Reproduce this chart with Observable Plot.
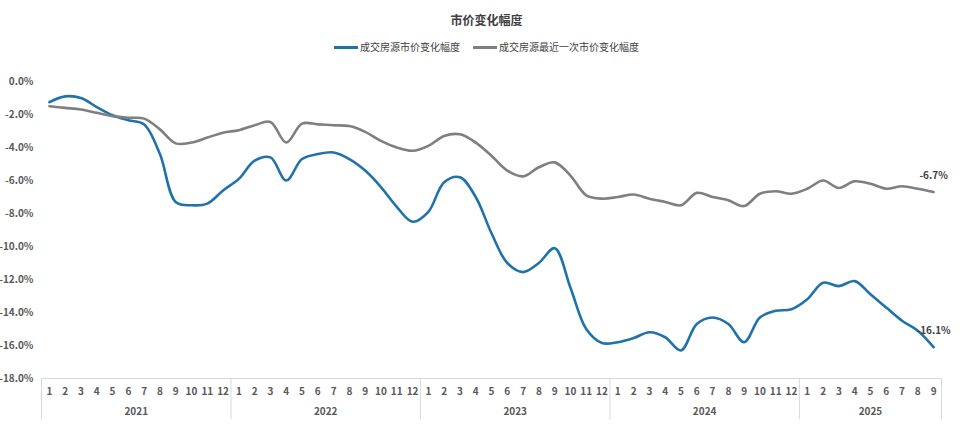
<!DOCTYPE html>
<html>
<head>
<meta charset="utf-8">
<script src="https://cdn.jsdelivr.net/npm/d3@7"></script>
<script src="https://cdn.jsdelivr.net/npm/@observablehq/plot@0.6"></script>
<style>
  body { margin: 0; background: #fff; }
  #wrap { position: relative; width: 973px; height: 424px; font-family: "Noto Sans CJK SC", "Noto Sans", sans-serif; }
  #title { position: absolute; top: 12px; left: 0; width: 973px; text-align: center; font-size: 12px; font-weight: bold; color: #404040; line-height: 16px; }
  #legend { position: absolute; top: 39px; left: 0; width: 973px; display: flex; justify-content: center; gap: 13px; font-size: 10px; color: #404040; line-height: 16px; }
  .item { display: flex; align-items: center; }
  .sw { width: 24px; height: 3px; margin-right: 2px; }
  #chart { position: absolute; top: 64px; left: 0; }
</style>
</head>
<body>
<div id="wrap">
  <div id="title"></div>
  <div id="legend"></div>
  <div id="chart"></div>
</div>
<script>
const title = "市价变化幅度";
const seriesNames = ["成交房源市价变化幅度", "成交房源最近一次市价变化幅度"];
const seriesColors = ["#1f72aa", "#7f7f7f"];
const years = ["2021", "2022", "2023", "2024", "2025"];
const monthsPerYear = [12, 12, 12, 12, 9];
const monthLabels = ["1","2","3","4","5","6","7","8","9","10","11","12"];
const yTicks = [0, -2, -4, -6, -8, -10, -12, -14, -16, -18];

const marketChange = [
  -1.25, -0.9, -1.0, -1.55, -2.05, -2.35, -2.6, -4.4, -7.3, -7.5, -7.4, -6.6,
  -5.9, -4.8, -4.6, -6.0, -4.7, -4.4, -4.3, -4.7, -5.4, -6.4, -7.6, -8.5,
  -7.9, -6.1, -5.8, -7.0, -9.2, -11.0, -11.55, -11.0, -10.1, -12.5, -15.0, -15.85,
  -15.8, -15.55, -15.2, -15.5, -16.3, -14.7, -14.3, -14.7, -15.8, -14.3, -13.9, -13.8,
  -13.2, -12.2, -12.4, -12.1, -12.9, -13.7, -14.5, -15.1, -16.1
];
const lastChange = [
  -1.5, -1.6, -1.7, -1.9, -2.1, -2.2, -2.25, -2.9, -3.75, -3.7, -3.4, -3.1,
  -2.95, -2.65, -2.45, -3.7, -2.55, -2.6, -2.65, -2.7, -3.05, -3.6, -4.0, -4.2,
  -3.9, -3.3, -3.2, -3.7, -4.5, -5.4, -5.75, -5.2, -4.9, -5.7, -6.9, -7.1,
  -7.0, -6.85, -7.1, -7.3, -7.5, -6.75, -7.0, -7.2, -7.55, -6.8, -6.65, -6.8,
  -6.5, -6.0, -6.45, -6.05, -6.2, -6.5, -6.35, -6.5, -6.7
];

document.getElementById("title").textContent = title;
const legend = document.getElementById("legend");
seriesNames.forEach((n, i) => {
  const it = document.createElement("div");
  it.className = "item";
  it.innerHTML = `<span class="sw" style="background:${seriesColors[i]}"></span><span>${n}</span>`;
  legend.appendChild(it);
});

// build tables
const monthRows = [];
const yearRows = [];
const bounds = [0];
let idx = 0;
years.forEach((y, yi) => {
  const start = idx;
  for (let m = 0; m < monthsPerYear[yi]; m++) {
    monthRows.push({ i: idx + 0.5, label: monthLabels[m] });
    idx++;
  }
  yearRows.push({ i: (start + idx) / 2, label: y });
  bounds.push(idx);
});
const total = idx;
const rows = [];
[marketChange, lastChange].forEach((vals, s) => {
  vals.forEach((v, k) => rows.push({ i: k + 0.5, v, s: seriesNames[s] }));
});
const ends = [marketChange, lastChange].map((vals, s) => ({
  i: vals.length - 0.5, v: vals[vals.length - 1], label: vals[vals.length - 1].toFixed(1) + "%"
}));

const font = '"Noto Sans CJK SC", "Noto Sans", sans-serif';
const chart = Plot.plot({
  width: 973,
  height: 360,
  marginTop: 17,
  marginBottom: 46,
  marginLeft: 41,
  marginRight: 32,
  style: { fontFamily: font, color: "#595959", background: "#fff" },
  x: { domain: [0, total], axis: null },
  y: { domain: [-18, 0], axis: null },
  color: { domain: seriesNames, range: seriesColors },
  marks: [
    Plot.axisY(yTicks, { tickSize: 0, tickPadding: 8, tickFormat: d => d.toFixed(1) + "%", fontSize: 10, fontWeight: "bold", fill: "#595959", label: null }),
    Plot.ruleY([-18], { x1: 0, x2: total, stroke: "#d9d9d9", strokeWidth: 1 }),
    Plot.ruleX(bounds, { y1: -18, y2: -20.5, stroke: "#d9d9d9", strokeWidth: 1 }),
    Plot.text(monthRows, { x: "i", y: () => -18, dy: 13, text: "label", fontSize: 10, fontWeight: "bold", fill: "#595959" }),
    Plot.text(yearRows, { x: "i", y: () => -18, dy: 33, text: "label", fontSize: 10, fontWeight: "bold", fill: "#595959" }),
    Plot.line(rows, { x: "i", y: "v", z: "s", stroke: "s", strokeWidth: 2.6, curve: "catmull-rom" }),
    Plot.text(ends, { x: "i", y: "v", dy: -16, text: "label", fontSize: 10, fontWeight: "bold", fill: "#404040" })
  ]
});
document.getElementById("chart").appendChild(chart);
</script>
</body>
</html>
